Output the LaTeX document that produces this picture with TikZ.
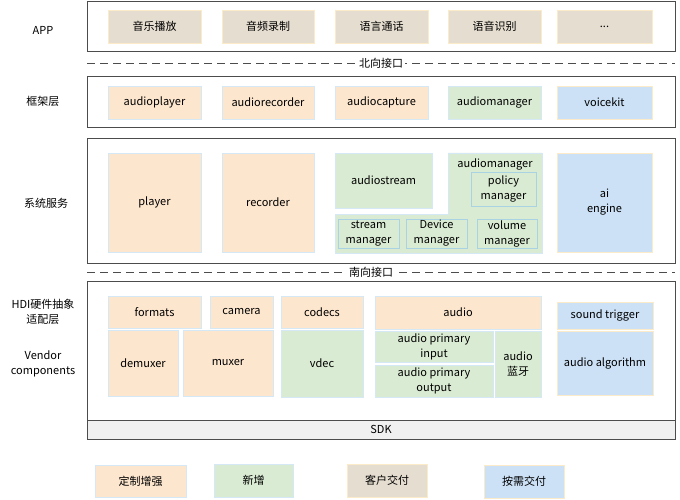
\documentclass[tikz,border=0pt]{standalone}
\usepackage{fontspec}
\setmainfont{Noto Sans CJK SC}
\definecolor{orgfill}{HTML}{FDE6CE}
\definecolor{grnfill}{HTML}{DAEBD3}
\definecolor{tanfill}{HTML}{E5DDCF}
\definecolor{blufill}{HTML}{CCE1F6}
\definecolor{bdrblue}{HTML}{D4E9F5}
\definecolor{bdryel}{HTML}{FCEBC8}
\definecolor{subblue}{HTML}{A9D2E3}
\definecolor{sdkgray}{HTML}{F0F0F0}
\begin{document}
\begin{tikzpicture}[x=1pt,y=-1pt,font=\fontsize{11}{15}\selectfont,
  layer/.style={draw=black!70,line width=1pt,fill=white},
  cell/.style={inner sep=0pt,align=center,line width=0.8pt},
  org/.style={fill=orgfill,draw=bdrblue},
  grn/.style={fill=grnfill,draw=bdrblue},
  tan/.style={fill=tanfill,draw=bdryel},
  blu/.style={fill=blufill,draw=bdryel},
  sub/.style={fill=grnfill,draw=subblue},
  split/.style={draw=black!70,line width=0.9pt,dash pattern=on 8pt off 5pt},
  tag/.style={fill=white,inner sep=2pt}]
\newcommand{\blk}[7]{\node[cell,#6,minimum width={(#4-#2)*1pt},minimum height={(#5-#3)*1pt}] (#1) at ({(#2+#4)/2},{(#3+#5)/2}) {#7};}
\useasboundingbox (0,0) rectangle (680,500);
% layers
\draw[layer] (87,1.5) rectangle (675,52);
\draw[layer] (87,77) rectangle (675,128);
\draw[layer] (87,139) rectangle (675,263);
\draw[layer] (87,281) rectangle (675,439);
\draw[layer,fill=sdkgray] (87,420) rectangle (675,439);
\node (sdk) at (381,429.5) {SDK};
\draw[split] (87,63) -- (675,63);
\node[tag] (north) at (381,63) {北向接口};
\draw[split] (87,272) -- (675,272);
\node[tag] (south) at (371,272) {南向接口};
% left labels
\node (lapp) at (43,30) {APP};
\node (lfw) at (43,101) {框架层};
\node (lsys) at (46,203) {系统服务};
\node[align=center] (lhdi) at (43,312) {HDI硬件抽象\\适配层};
\node[align=center] (lvendor) at (43,364) {Vendor\\components};
% APP
\blk{music}{108}{10}{201}{43}{tan}{音乐播放}
\blk{record}{222}{10}{314}{43}{tan}{音频录制}
\blk{call}{335}{10}{428}{43}{tan}{语言通话}
\blk{asr}{448}{10}{541}{43}{tan}{语音识别}
\blk{more}{557}{10}{652}{43}{tan}{...}
% framework
\blk{aplayer}{108}{86}{201}{119}{org}{audioplayer}
\blk{arecorder}{222}{86}{314}{119}{org}{audiorecorder}
\blk{acapture}{335}{86}{428}{119}{org}{audiocapture}
\blk{amanager}{448}{86}{541}{119}{grn}{audiomanager}
\blk{vkit}{557}{86}{652}{119}{blu}{voicekit}
% system services
\blk{player}{108}{153}{201}{252}{org}{player}
\blk{recorder}{222}{153}{314}{252}{org}{recorder}
\blk{astream}{335}{153}{432}{208}{grn}{audiostream}
\draw[grn,line width=0.8pt] (448,153) -- (542,153) -- (542,253) -- (335,253) -- (335,214) -- (448,214) -- cycle;
\node (amsvc) at (495,164) {audiomanager};
\blk{policy}{471}{172}{536}{206}{sub}{policy\\manager}
\blk{streammgr}{338}{219}{399}{248}{sub}{stream\\manager}
\blk{devmgr}{406}{219}{467}{248}{sub}{Device\\manager}
\blk{volmgr}{477}{219}{537}{248}{sub}{volume\\manager}
\blk{aiengine}{557}{153}{652}{252}{blu}{ai\\engine}
% HDI / vendor
\blk{formats}{108}{296}{201}{328}{org}{formats}
\blk{camera}{210}{296}{273}{328}{org}{camera}
\blk{codecs}{281}{296}{363}{328}{org}{codecs}
\blk{demuxer}{108}{330}{178}{396}{org}{demuxer}
\blk{muxer}{183}{330}{273}{396}{org}{muxer}
\blk{vdec}{281}{330}{363}{397}{grn}{vdec}
\blk{audio}{375}{296}{541}{329}{org}{audio}
\blk{apin}{375}{331}{493}{362}{grn}{audio primary\\input}
\blk{apout}{375}{365}{493}{397}{grn}{audio primary\\output}
\blk{abt}{495}{331}{541}{397}{grn}{audio\\蓝牙}
\blk{strigger}{557}{302}{653}{329}{blu}{sound trigger}
\blk{aalgo}{557}{331}{653}{395}{blu}{audio algorithm}
% legend
\blk{keyorg}{95}{465}{186}{497}{org}{定制增强}
\blk{keygrn}{214}{464}{293}{497}{grn}{新增}
\blk{keytan}{347}{464}{427}{497}{tan}{客户交付}
\blk{keyblu}{484}{465}{564}{498}{blu}{按需交付}
\end{tikzpicture}
\end{document}
